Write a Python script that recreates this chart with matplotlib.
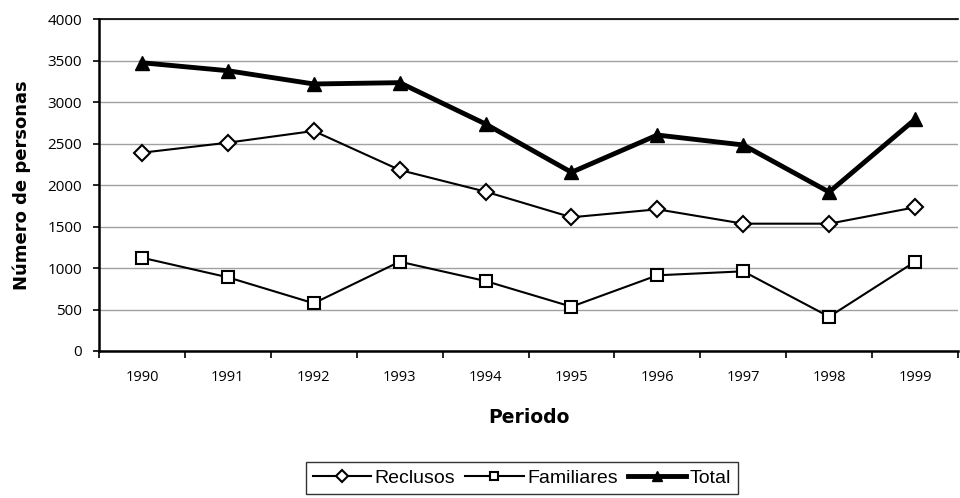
import matplotlib
matplotlib.use("Agg")
import matplotlib.pyplot as plt
import numpy as np

years = ["1990", "1991", "1992", "1993", "1994", "1995", "1996", "1997", "1998", "1999"]
reclusos = [2389, 2510, 2651, 2181, 1920, 1611, 1707, 1534, 1534, 1731]
familiares = [1124, 888, 575, 1076, 843, 534, 912, 960, 413, 1076]
total = [3473, 3377, 3217, 3233, 2735, 2153, 2602, 2482, 1915, 2791]
yticks = [0, 500, 1000, 1500, 2000, 2500, 3000, 3500, 4000]

fig = plt.figure(figsize=(9.6, 4.98), dpi=100)
ax = fig.add_axes([99/960, 1-351/498, (958-99)/960, (351-19)/498])

x = np.arange(len(years))
ax.plot(x, reclusos, color="black", lw=1.5, marker="D", ms=8.5, mfc="white",
        mec="black", mew=1.5, label="Reclusos", zorder=3)
ax.plot(x, familiares, color="black", lw=1.5, marker="s", ms=8, mfc="white",
        mec="black", mew=1.5, label="Familiares", zorder=3)
ax.plot(x, total, color="black", lw=3.5, marker="^", ms=10, mfc="black",
        mec="black", label="Total", zorder=4)

ax.set_xlim(-0.5, len(years)-0.5)
ax.set_ylim(0, 4000)
ax.set_yticks(yticks)
ax.set_yticklabels([str(v) for v in yticks], fontfamily="Open Sans", fontsize=11)
ax.yaxis.grid(True, color="#a0a0a0", lw=1)
ax.set_axisbelow(True)

ax.set_xticks(x)
ax.set_xticklabels(years, fontfamily="Open Sans", fontsize=10.5)
ax.set_xticks(np.arange(-0.5, len(years)), minor=True)
ax.tick_params(axis="x", which="major", length=0, pad=14)
ax.tick_params(axis="x", which="minor", length=5, width=1.2, direction="out")
ax.tick_params(axis="y", length=4, width=1.2, direction="out", pad=8)

for s in ["left", "bottom"]:
    ax.spines[s].set_linewidth(1.8)
ax.spines["top"].set_linewidth(1.2)
ax.spines["right"].set_visible(False)

ax.set_xlabel("Periodo", fontfamily="DejaVu Sans", fontweight="bold",
              fontsize=13.5, labelpad=16)
ax.set_ylabel("Número de personas", fontfamily="DejaVu Sans", fontweight="bold",
              fontsize=13, labelpad=12)

leg = fig.legend(loc="center", bbox_to_anchor=(522/960, 1-478/498), ncol=3,
                 frameon=True, fancybox=False, edgecolor="black",
                 prop={"family": "Liberation Sans", "size": 14},
                 handlelength=3.0, handletextpad=0.2, columnspacing=0.5,
                 borderpad=0.35, markerscale=0.75)
leg.get_frame().set_linewidth(1.0)

fig.savefig("out.png", dpi=100)
